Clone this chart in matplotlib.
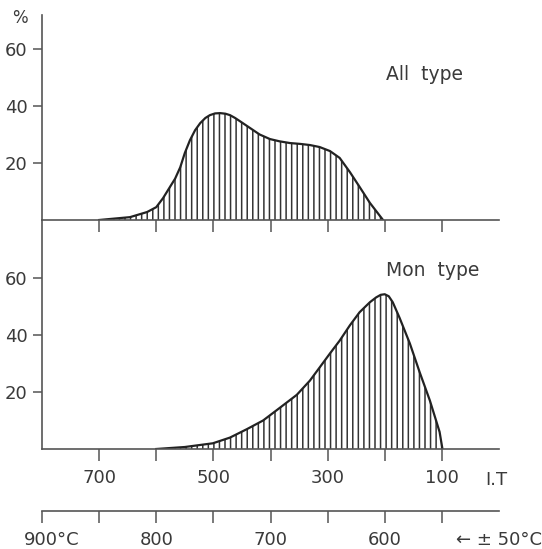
import numpy as np
import matplotlib.pyplot as plt

# I.T values (x) and frequency in % (y)
all_it = [700, 646, 616, 600, 588, 576, 567, 558, 550, 541, 532, 523, 514, 506,
          497, 488, 479, 471, 462, 453, 436, 419, 401, 384, 366, 348, 331, 314,
          296, 279, 261, 244, 226, 203]
all_pct = [0, 1, 2.8, 4.5, 7.7, 11.6, 14.5, 18.5, 23.5, 28, 31.5, 34, 35.8, 36.8,
           37.4, 37.5, 37.3, 36.8, 35.8, 34.6, 32.3, 30, 28.4, 27.6, 27, 26.7, 26.3,
           25.6, 24.2, 21.8, 16.8, 11.6, 6, 0]

mon_it = [600, 550, 501, 471, 441, 413, 384, 354, 331, 314, 296, 279, 261, 244,
          226, 215, 207, 200, 193, 186, 174, 156, 139, 121, 104, 99]
mon_pct = [0, 0.7, 2, 4, 7, 10, 14.4, 19, 24, 28.6, 33.5, 38, 43.4, 48,
           51.5, 53.2, 54.1, 54.3, 53.6, 51.5, 46, 37, 27, 17, 6, 0]

it_ticks = [700, 600, 500, 400, 300, 200, 100]
it_labels = ['700', '', '500', '', '300', '', '100']
temp_ticks = [800, 700, 600, 500, 400, 300, 200, 100]
temp_label_pos = [800, 600, 400, 200]
temp_labels = ['900°C', '800', '700', '600']
y_ticks = [20, 40, 60]

TXT = '#3a3a3a'
LINE = '#555555'
CURVE = '#222222'

plt.rcParams['font.family'] = ['DejaVu Sans']
plt.rcParams['hatch.linewidth'] = 1.1
plt.rcParams['hatch.color'] = '#333333'

W, H = 542, 549
fig = plt.figure(figsize=(W / 100, H / 100), dpi=100)


def box(x0, y0, x1, y1):
    # pixel box -> figure fraction rect
    return [x0 / W, 1 - y1 / H, (x1 - x0) / W, (y1 - y0) / H]


ax_top = fig.add_axes(box(42, 15, 499, 220))
ax_bot = fig.add_axes(box(42, 220, 499, 449))
ax_tmp = fig.add_axes(box(42, 510, 499, 511))

for ax, it, pct, ymax in [(ax_top, all_it, all_pct, 205 / 57 * 20),
                          (ax_bot, mon_it, mon_pct, 229 / 57 * 20)]:
    ax.fill_between(it, pct, 0, facecolor='none', edgecolor='#333333',
                    hatch='|||', linewidth=0)
    ax.plot(it, pct, color=CURVE, lw=1.6, solid_joinstyle='round')
    ax.set_xlim(800, 0)
    ax.set_ylim(0, ymax)
    ax.patch.set_alpha(0)
    for s in ['top', 'right']:
        ax.spines[s].set_visible(False)
    for s in ['left', 'bottom']:
        ax.spines[s].set_color(LINE)
        ax.spines[s].set_linewidth(1.2)
    ax.set_yticks(y_ticks)
    ax.set_yticklabels([str(v) for v in y_ticks])
    ax.tick_params(axis='y', direction='out', length=6.5, width=1.1,
                   color=LINE, labelcolor=TXT, labelsize=13, pad=4)
    ax.set_xticks(it_ticks)
    ax.tick_params(axis='x', direction='out', length=8.5, width=1.1,
                   color=LINE, labelcolor=TXT, labelsize=13, pad=6)

ax_top.set_xticklabels([''] * len(it_ticks))
ax_bot.set_xticklabels(it_labels)

# temperature scale
ax_tmp.set_xlim(800, 0)
ax_tmp.set_ylim(0, 1)
ax_tmp.patch.set_alpha(0)
for s in ['top', 'right', 'left']:
    ax_tmp.spines[s].set_visible(False)
ax_tmp.spines['bottom'].set_color(LINE)
ax_tmp.spines['bottom'].set_linewidth(1.2)
ax_tmp.set_yticks([])
ax_tmp.set_xticks(temp_ticks)
ax_tmp.set_xticklabels([''] * len(temp_ticks))
ax_tmp.tick_params(axis='x', direction='out', length=8.5, width=1.1, color=LINE)
for pos, lab in zip(temp_label_pos, temp_labels):
    dx = 10 if lab.endswith('C') else 0
    ax_tmp.annotate(lab, (pos, 0), xycoords=('data', 'axes fraction'),
                    xytext=(dx, -29), textcoords='offset pixels',
                    ha='center', va='center', fontsize=13, color=TXT)

fig.text(20 / W, 1 - 18 / H, '%', ha='center', va='center', fontsize=12, color=TXT)
fig.text(496 / W, 1 - 480 / H, 'I.T', ha='center', va='center', fontsize=13, color=TXT)
fig.text(499 / W, 1 - 540 / H, '← ± 50°C', ha='center', va='center', fontsize=13, color=TXT)
fig.text(425 / W, 1 - 75 / H, 'All  type', ha='center', va='center', fontsize=13.5, color=TXT)
fig.text(433 / W, 1 - 270 / H, 'Mon  type', ha='center', va='center', fontsize=13.5, color=TXT)

fig.savefig('out.png', dpi=100)
